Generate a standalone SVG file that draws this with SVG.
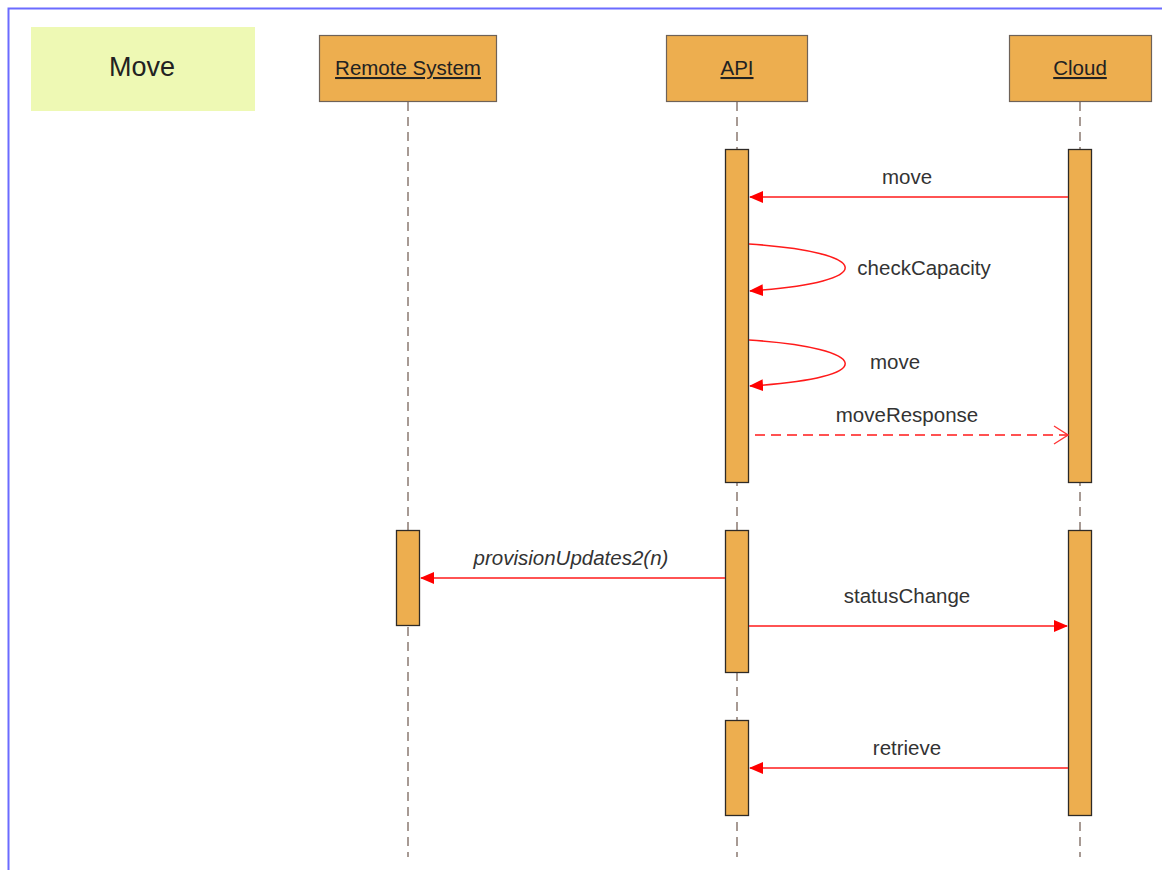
<svg xmlns="http://www.w3.org/2000/svg" width="1162" height="870" viewBox="0 0 1162 870">
<style>
.head{fill:#EDAE4F;stroke:#6e6258;stroke-width:1.2}
.act{fill:#EDAE4F;stroke:#2e2a26;stroke-width:1.3}
.life{stroke:#8a7a72;stroke-width:1.5;stroke-dasharray:9 6;fill:none}
.ht{font-family:"Liberation Sans",Arial,sans-serif;font-size:20.5px;fill:#222;text-anchor:middle;text-decoration:underline}
.lbl{font-family:"Liberation Sans",Arial,sans-serif;font-size:20.5px;fill:#333;text-anchor:middle}
.msg{stroke:#ff1a1a;stroke-width:1.5;fill:none}
</style>
<defs>
<marker id="fill" markerWidth="14" markerHeight="12" refX="13" refY="6" orient="auto" markerUnits="userSpaceOnUse">
<path d="M0,0 L14,6 L0,12 Z" fill="#ff0000"/>
</marker>
<marker id="open" markerWidth="16" markerHeight="20" refX="15" refY="10" orient="auto" markerUnits="userSpaceOnUse">
<path d="M1,1 L15,10 L1,19" fill="none" stroke="#ff3333" stroke-width="1.3"/>
</marker>
</defs>
<rect width="1162" height="870" fill="#fff"/>
<path d="M8.5,870 L8.5,8.5 L1162,8.5" fill="none" stroke="#6b6bff" stroke-width="2"/>

<g id="title">
<rect x="31" y="27" width="224" height="84" fill="#EEF9B4"/>
<text x="142" y="76" font-family="Liberation Sans,Arial,sans-serif" font-size="27" fill="#222" text-anchor="middle">Move</text>
</g>

<g id="remote">
<line class="life" x1="408" y1="102" x2="408" y2="857"/>
<rect class="head" x="319.5" y="35.5" width="177" height="66"/>
<text class="ht" x="408" y="75">Remote System</text>
<rect class="act" x="396.5" y="530.5" width="23" height="95"/>
</g>

<g id="api">
<line class="life" x1="737" y1="102" x2="737" y2="857"/>
<rect class="head" x="666.5" y="35.5" width="141" height="66"/>
<text class="ht" x="737" y="75">API</text>
<rect class="act" x="725.5" y="149.5" width="23" height="333"/>
<rect class="act" x="725.5" y="530.5" width="23" height="142"/>
<rect class="act" x="725.5" y="720.5" width="23" height="95"/>
</g>

<g id="cloud">
<line class="life" x1="1080" y1="102" x2="1080" y2="857"/>
<rect class="head" x="1009.5" y="35.5" width="142" height="66"/>
<text class="ht" x="1080" y="75">Cloud</text>
<rect class="act" x="1068.5" y="149.5" width="23" height="333"/>
<rect class="act" x="1068.5" y="530.5" width="23" height="285"/>
</g>

<g id="connectors">
<line class="msg" x1="1068" y1="197" x2="750" y2="197" marker-end="url(#fill)"/>
<text class="lbl" x="907" y="184">move</text>

<path class="msg" d="M749,244 C872,252 882,282 750,291" marker-end="url(#fill)"/>
<text class="lbl" x="924" y="275">checkCapacity</text>

<path class="msg" d="M749,340 C872,348 882,378 750,386" marker-end="url(#fill)"/>
<text class="lbl" x="895" y="369">move</text>

<line class="msg" x1="755" y1="435" x2="1068" y2="435" stroke-dasharray="10 6" stroke="#ff3333" marker-end="url(#open)"/>
<text class="lbl" x="907" y="422">moveResponse</text>

<line class="msg" x1="725" y1="578" x2="421" y2="578" marker-end="url(#fill)"/>
<text class="lbl" x="571" y="565" font-style="italic">provisionUpdates2(n)</text>

<line class="msg" x1="749" y1="626" x2="1067" y2="626" marker-end="url(#fill)"/>
<text class="lbl" x="907" y="603">statusChange</text>

<line class="msg" x1="1068" y1="768" x2="750" y2="768" marker-end="url(#fill)"/>
<text class="lbl" x="907" y="755">retrieve</text>
</g>
</svg>
